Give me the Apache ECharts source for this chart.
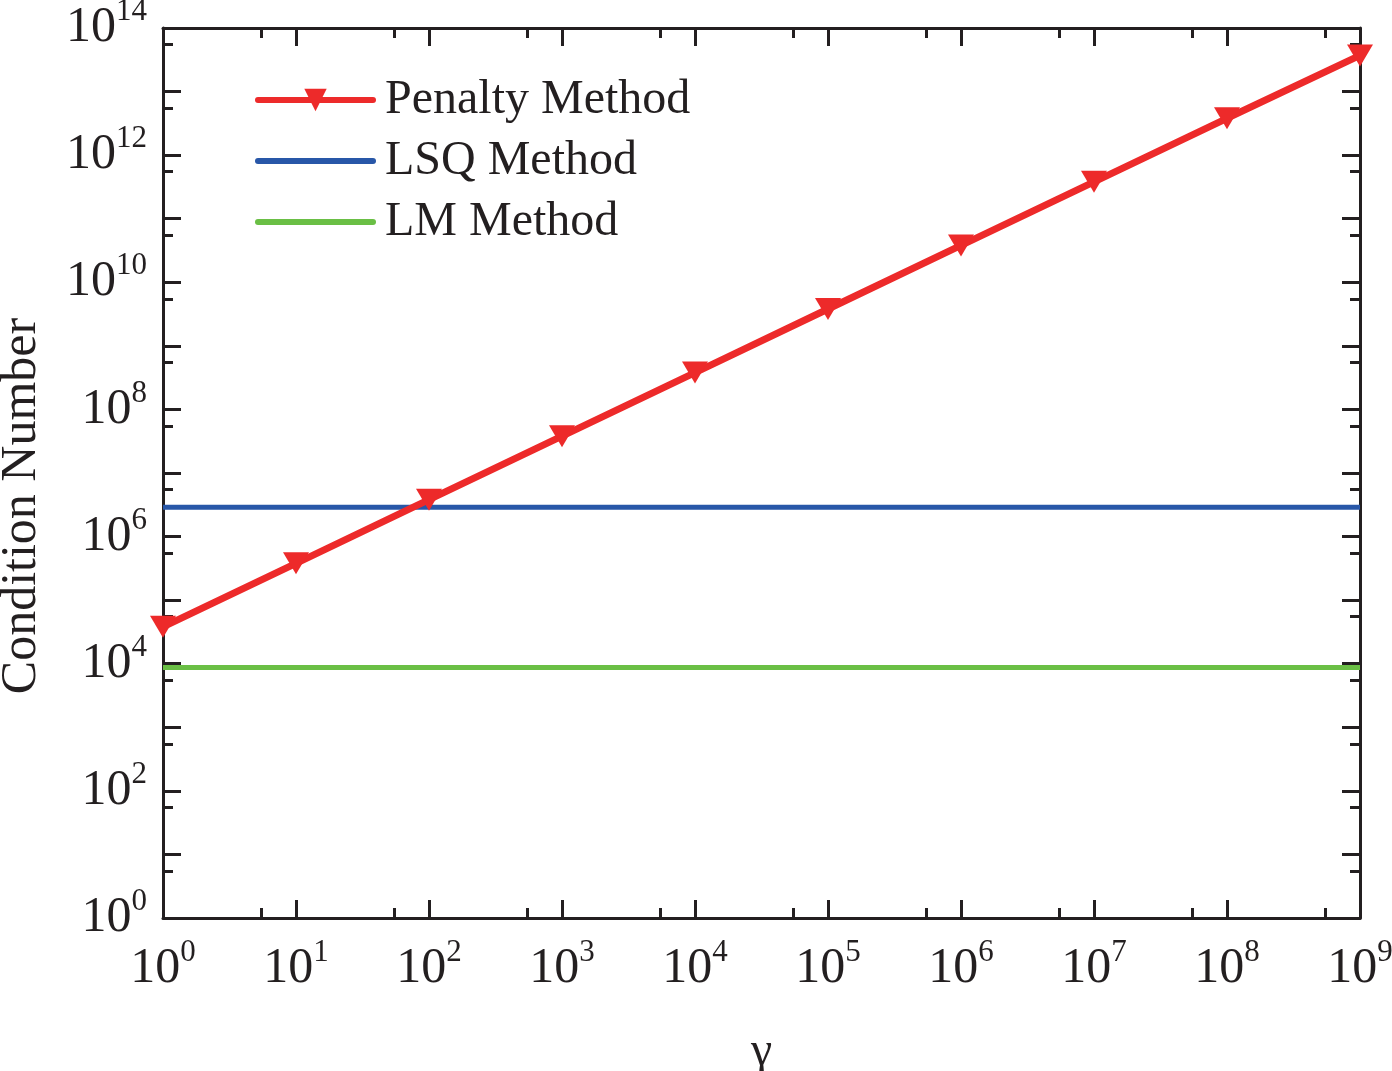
<!DOCTYPE html>
<html>
<head>
<meta charset="utf-8">
<script src="https://cdn.jsdelivr.net/npm/echarts@6/dist/echarts.min.js"></script>
<style>
html, body { margin: 0; padding: 0; background: #fff; }
#main { width: 1392px; height: 1071px; }
</style>
</head>
<body>
<div id="main"></div>
<script>
var myChart = echarts.init(document.getElementById('main'));

// data
var gammaValues = [1, 1e1, 1e2, 1e3, 1e4, 1e5, 1e6, 1e7, 1e8, 1e9];
var penaltyValues = [3.8e4, 3.8e5, 3.8e6, 3.8e7, 3.8e8, 3.8e9, 3.8e10, 3.8e11, 3.8e12, 3.7e13];
var lsqValues = [2.9e6, 2.9e6, 2.9e6, 2.9e6, 2.9e6, 2.9e6, 2.9e6, 2.9e6, 2.9e6, 2.9e6];
var lmValues = [8.7e3, 8.7e3, 8.7e3, 8.7e3, 8.7e3, 8.7e3, 8.7e3, 8.7e3, 8.7e3, 8.7e3];
var seriesNames = ['Penalty Method', 'LSQ Method', 'LM Method'];
var seriesColors = ['#ed2a2a', '#2857a8', '#6abf45'];

var font = 'Liberation Serif';
var ink = '#231f20';

function pairs(ys) {
	var out = [];
	for (var i = 0; i < gammaValues.length; i++) {
		out.push([gammaValues[i], ys[i]]);
	}
	return out;
}

// 10 + raised exponent
var rich = {
	b: { fontFamily: font, fontSize: 50, color: ink, lineHeight: 54 },
	s: { fontFamily: font, fontSize: 31, color: ink, lineHeight: 20, padding: [0, 0, 32, 0] }
};

function powLabel(v, every) {
	var e = Math.round(Math.log10(v));
	if (e % every !== 0) return '';
	return '{b|10}{s|' + e + '}';
}

function baseAxis(min, max) {
	return {
		type: 'log',
		logBase: 10,
		min: min,
		max: max,
		interval: 1,
		splitLine: { show: false },
		axisLine: { show: true, lineStyle: { color: ink, width: 3 } },
		axisTick: { show: true, inside: true, length: 18, lineStyle: { color: ink, width: 3 } },
		minorTick: { show: true, splitNumber: 2, length: 10, lineStyle: { color: ink, width: 3 } },
		minorSplitLine: { show: false }
	};
}

var xMain = baseAxis(1, 1e9);
xMain.position = 'bottom';
xMain.name = 'γ';
xMain.nameLocation = 'middle';
xMain.nameGap = 110;
xMain.nameTextStyle = { fontFamily: font, fontSize: 48, color: ink };
xMain.axisLabel = { margin: 24, formatter: function (v) { return powLabel(v, 1); }, rich: rich };

var xTop = baseAxis(1, 1e9);
xTop.position = 'top';
xTop.axisLabel = { show: false };

var yMain = baseAxis(1, 1e14);
yMain.position = 'left';
yMain.name = 'Condition Number';
yMain.nameLocation = 'middle';
yMain.nameGap = 116;
yMain.nameTextStyle = { fontFamily: font, fontSize: 50, color: ink, padding: [0, 66, 0, 0] };
yMain.axisLabel = { margin: 16, formatter: function (v) { return powLabel(v, 2); }, rich: rich };

var yRight = baseAxis(1, 1e14);
yRight.position = 'right';
yRight.axisLabel = { show: false };

var legendData = [];
for (var i = 0; i < seriesNames.length; i++) {
	legendData.push({
		name: seriesNames[i],
		lineStyle: { width: 6, color: seriesColors[i], cap: 'round' },
		itemStyle: i === 0 ? { color: seriesColors[i] } : { opacity: 0 }
	});
}

option = {
	animation: false,
	backgroundColor: '#ffffff',
	grid: { left: 163, top: 28, right: 32, bottom: 153, containLabel: false, outerBoundsMode: 'none' },
	legend: {
		orient: 'vertical',
		left: 255,
		top: 73,
		padding: 0,
		itemWidth: 115,
		itemHeight: 28,
		itemGap: 7,
		textStyle: { fontFamily: font, fontSize: 48, color: ink, lineHeight: 54, padding: [0, 0, 0, 7] },
		data: legendData
	},
	xAxis: [xMain, xTop],
	yAxis: [yMain, yRight],
	series: [{
		name: seriesNames[0],
		type: 'line',
		data: pairs(penaltyValues),
		symbol: 'triangle',
		symbolRotate: 180,
		symbolSize: [26, 22],
		itemStyle: { color: seriesColors[0] },
		lineStyle: { color: seriesColors[0], width: 7 },
		z: 4
	}, {
		name: seriesNames[1],
		type: 'line',
		data: pairs(lsqValues),
		symbol: 'none',
		itemStyle: { color: seriesColors[1] },
		lineStyle: { color: seriesColors[1], width: 5 },
		z: 3
	}, {
		name: seriesNames[2],
		type: 'line',
		data: pairs(lmValues),
		symbol: 'none',
		itemStyle: { color: seriesColors[2] },
		lineStyle: { color: seriesColors[2], width: 5 },
		z: 3
	}]
};

myChart.setOption(option);
</script>
</body>
</html>
